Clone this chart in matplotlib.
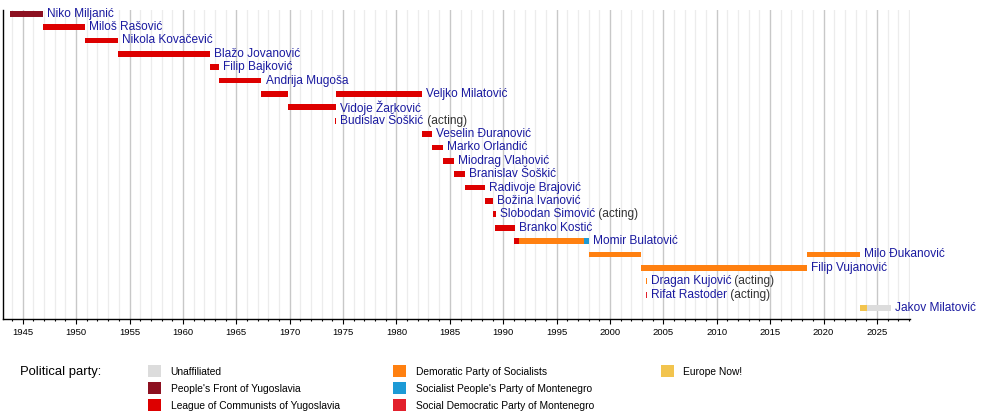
import matplotlib
matplotlib.use("Agg")
import matplotlib.pyplot as plt
from matplotlib.patches import Rectangle
from matplotlib.ticker import MultipleLocator

plt.rcParams['font.family'] = ['Liberation Sans', 'DejaVu Sans']

# ---- data ----
names = ["Niko Miljanić", "Miloš Rašović", "Nikola Kovačević", "Blažo Jovanović",
         "Filip Bajković", "Andrija Mugoša", "Veljko Milatović", "Vidoje Žarković",
         "Budislav Šoškić", "Veselin Đuranović", "Marko Orlandić", "Miodrag Vlahović",
         "Branislav Šoškić", "Radivoje Brajović", "Božina Ivanović", "Slobodan Simović",
         "Branko Kostić", "Momir Bulatović", "Milo Đukanović", "Filip Vujanović",
         "Dragan Kujović", "Rifat Rastoder", "Jakov Milatović"]
acting = ["Budislav Šoškić", "Slobodan Simović", "Dragan Kujović", "Rifat Rastoder"]

party_names = ["Unaffiliated", "People's Front of Yugoslavia", "League of Communists of Yugoslavia",
               "Demoratic Party of Socialists", "Socialist People's Party of Montenegro",
               "Social Democratic Party of Montenegro", "Europe Now!"]
party_keys = ["IND", "PFY", "LCY", "DPS", "SNP", "SDP", "PES"]
party_colors = ["#dcdcdc", "#8c1020", "#dd0000", "#ff8010", "#1c9ad6", "#e2202c", "#f2c44e"]

term_person = ["Niko Miljanić", "Miloš Rašović", "Nikola Kovačević", "Blažo Jovanović",
               "Filip Bajković", "Andrija Mugoša", "Veljko Milatović", "Vidoje Žarković",
               "Budislav Šoškić", "Veljko Milatović", "Veselin Đuranović", "Marko Orlandić",
               "Miodrag Vlahović", "Branislav Šoškić", "Radivoje Brajović", "Božina Ivanović",
               "Slobodan Simović", "Branko Kostić", "Momir Bulatović", "Momir Bulatović",
               "Momir Bulatović", "Milo Đukanović", "Filip Vujanović", "Dragan Kujović",
               "Rifat Rastoder", "Milo Đukanović", "Jakov Milatović", "Jakov Milatović"]
term_start = [1943.8, 1946.87, 1950.8, 1953.95, 1962.5, 1963.35, 1967.35, 1969.8,
              1974.27, 1974.3, 1982.35, 1983.35, 1984.38, 1985.35, 1986.38, 1988.3,
              1989.0, 1989.22, 1991.02, 1991.5, 1997.6, 1998.05, 2002.95, 2003.33,
              2003.33, 2018.45, 2023.4, 2024.1]
term_end = [1946.87, 1950.8, 1953.95, 1962.5, 1963.35, 1967.35, 1969.8, 1974.3,
            1974.37, 1982.35, 1983.35, 1984.38, 1985.35, 1986.38, 1988.3, 1989.05,
            1989.3, 1991.08, 1991.5, 1997.6, 1998.05, 2002.95, 2018.45, 2003.43,
            2003.43, 2023.4, 2024.1, 2026.3]
term_party = ["PFY", "LCY", "LCY", "LCY", "LCY", "LCY", "LCY", "LCY",
              "LCY", "LCY", "LCY", "LCY", "LCY", "LCY", "LCY", "LCY",
              "LCY", "LCY", "LCY", "DPS", "SNP", "DPS", "DPS", "DPS",
              "SDP", "DPS", "PES", "IND"]

year_min, year_max = 1943.15, 2028.1

# ---- figure ----
fig = plt.figure(figsize=(10.0, 4.18), dpi=100)
ax = fig.add_axes([0.003, 1 - 318.7 / 418, 0.907, (318.7 - 10) / 418])

color_of = dict(zip(party_keys, party_colors))
row_of = {n: i for i, n in enumerate(names)}

for p, s, e, k in zip(term_person, term_start, term_end, term_party):
    ax.barh(row_of[p], e - s, left=s, height=0.43, color=color_of[k], linewidth=0, zorder=3)

label_color = "#1a1aa0"
for n in names:
    r = row_of[n]
    end = max(e for p, e in zip(term_person, term_end) if p == n)
    t = ax.annotate(n, xy=(end, r), xytext=(3.0, 0), textcoords="offset points",
                    va="center", ha="left", fontsize=8.6, color=label_color, zorder=4)
    if n in acting:
        ax.annotate(" (acting)", xy=(1, 0), xycoords=t, va="bottom", ha="left",
                    fontsize=8.6, color="#333333", zorder=4)

ax.set_xlim(year_min, year_max)
ax.set_ylim(len(names) - 1 + 0.8, -0.28)
ax.set_yticks([])
ax.xaxis.set_major_locator(MultipleLocator(5))
ax.xaxis.set_minor_locator(MultipleLocator(1))
ax.grid(which="major", axis="x", color="#c8c8c8", linewidth=1.0)
ax.grid(which="minor", axis="x", color="#ececec", linewidth=0.9)
ax.set_axisbelow(True)
ax.tick_params(axis="x", which="major", length=3.3, width=0.8, pad=3.4,
               labelsize=6.8, colors="black")
ax.tick_params(axis="x", which="minor", length=1.7, width=0.8)
for side in ("top", "right"):
    ax.spines[side].set_visible(False)
ax.spines["left"].set_linewidth(1.0)
ax.spines["bottom"].set_linewidth(1.0)

# ---- legend ----
W, H = 1000.0, 418.0
fig.text(20 / W, 1 - 372 / H, "Political party:", fontsize=9.4, va="center", ha="left")
col_x = [148.3, 393.3, 661.0]
row_y = [371.0, 388.0, 405.0]
for i, (pn, pc) in enumerate(zip(party_names, party_colors)):
    c, r = divmod(i, 3)
    x0 = col_x[c]
    y0 = row_y[r]
    fig.patches.append(Rectangle((x0 / W, 1 - (y0 + 6.2) / H), 12.7 / W, 12.2 / H,
                                 transform=fig.transFigure, facecolor=pc,
                                 edgecolor="none", figure=fig))
    fig.text((x0 + 22.4) / W, 1 - (y0 + 1) / H, pn, fontsize=7.4, va="center", ha="left")

fig.savefig("out.png", dpi=100)
